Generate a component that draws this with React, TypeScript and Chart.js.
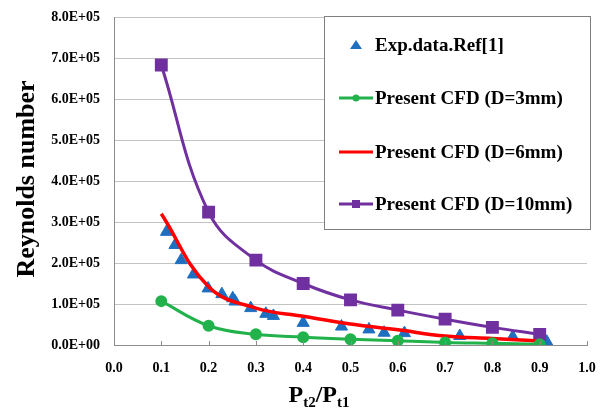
import React, { useEffect, useRef } from "react";
import { Chart, registerables } from "chart.js";
Chart.register(...registerables);

const expX = [0.111, 0.129, 0.142, 0.168, 0.199, 0.228, 0.251, 0.256, 0.289, 0.321, 0.337, 0.4, 0.481, 0.539, 0.571, 0.614, 0.731, 0.843, 0.915];
const expY = [2.76e5, 2.44e5, 2.07e5, 1.72e5, 1.38e5, 1.24e5, 1.14e5, 1.06e5, 0.9e5, 0.76e5, 0.71e5, 0.54e5, 0.45e5, 0.38e5, 0.3e5, 0.29e5, 0.22e5, 0.2e5, 0.08e5];
const cfdX = [0.1, 0.2, 0.3, 0.4, 0.5, 0.6, 0.7, 0.8, 0.9];
const re3 = [1.07e5, 0.47e5, 0.26e5, 0.19e5, 0.14e5, 0.105e5, 0.06e5, 0.04e5, 0.02e5];
const re6 = [3.2e5, 1.42e5, 0.9e5, 0.7e5, 0.51e5, 0.37e5, 0.22e5, 0.16e5, 0.1e5];
const re10 = [6.83e5, 3.24e5, 2.07e5, 1.5e5, 1.1e5, 0.85e5, 0.63e5, 0.43e5, 0.26e5];
const labels = ["Exp.data.Ref[1]", "Present CFD (D=3mm)", "Present CFD (D=6mm)", "Present CFD (D=10mm)"];
const yTitle = "Reynolds number";

const SERIF = '"Liberation Serif", "Times New Roman", serif';
const BLUE = "#1f6fc1";
const GREEN = "#22b24c";
const RED = "#ff0000";
const PURPLE = "#7030a0";

function sci(v: number): string {
  if (v === 0) return "0.0E+00";
  const e = Math.floor(Math.log10(Math.abs(v)) + 1e-9);
  const m = v / Math.pow(10, e);
  return m.toFixed(1) + "E+" + String(e).padStart(2, "0");
}

const decorPlugin = {
  id: "decor",
  afterDatasetsDraw(chart: any) {
    const ctx = chart.ctx;
    const { bottom } = chart.chartArea;
    const xs = chart.scales.x;
    ctx.save();
    // inward x tick marks
    ctx.strokeStyle = "#8c8c8c";
    ctx.lineWidth = 1;
    xs.ticks.forEach((t: any) => {
      const px = Math.round(xs.getPixelForValue(t.value)) + 0.5;
      ctx.beginPath();
      ctx.moveTo(px, bottom - 4);
      ctx.lineTo(px, bottom);
      ctx.stroke();
    });

    // legend box
    const bx = 324.5, by = 16.5, bw = 266, bh = 213;
    ctx.fillStyle = "#ffffff";
    ctx.fillRect(bx, by, bw, bh);
    ctx.strokeStyle = "#7f7f7f";
    ctx.strokeRect(bx, by, bw, bh);
    const rows = [45, 98, 152, 204];
    const ds = chart.data.datasets;
    ctx.font = `bold 19px ${SERIF}`;
    ctx.textBaseline = "middle";
    ctx.textAlign = "left";
    rows.forEach((ry: number, i: number) => {
      const d = ds[i];
      const col = d.borderColor;
      if (i === 0) {
        ctx.fillStyle = d.pointBackgroundColor;
        ctx.beginPath();
        ctx.moveTo(356, ry - 5);
        ctx.lineTo(362, ry + 4);
        ctx.lineTo(350, ry + 4);
        ctx.closePath();
        ctx.fill();
      } else {
        ctx.strokeStyle = col;
        ctx.lineWidth = 3;
        ctx.beginPath();
        ctx.moveTo(339, ry);
        ctx.lineTo(373, ry);
        ctx.stroke();
        ctx.fillStyle = col;
        if (i === 1) {
          ctx.beginPath();
          ctx.arc(356, ry, 3.5, 0, Math.PI * 2);
          ctx.fill();
        } else if (i === 3) {
          ctx.fillRect(352, ry - 4, 8, 8);
        }
      }
      ctx.fillStyle = "#000";
      ctx.fillText(d.label, 375, ry + 1);
    });

    // y title
    ctx.save();
    ctx.translate(27, 179);
    ctx.rotate(-Math.PI / 2);
    ctx.font = `bold 26px ${SERIF}`;
    ctx.textAlign = "center";
    ctx.textBaseline = "middle";
    ctx.fillStyle = "#000";
    ctx.fillText(yTitle, 0, 0);
    ctx.restore();

    // x title with subscripts
    const big = `bold 24px ${SERIF}`;
    const small = `bold 15px ${SERIF}`;
    const parts: [string, boolean][] = [["P", false], ["t2", true], ["/P", false], ["t1", true]];
    let total = 0;
    parts.forEach(([s, sub]) => {
      ctx.font = sub ? small : big;
      total += ctx.measureText(s).width;
    });
    let x = 319 - total / 2;
    ctx.textAlign = "left";
    ctx.textBaseline = "alphabetic";
    ctx.fillStyle = "#000";
    parts.forEach(([s, sub]) => {
      ctx.font = sub ? small : big;
      ctx.fillText(s, x, sub ? 407 : 402);
      x += ctx.measureText(s).width;
    });
    ctx.restore();
  },
};

export default function App() {
  const ref = useRef<HTMLCanvasElement>(null);
  useEffect(() => {
    if (!ref.current) return;
    const chart = new Chart(ref.current, {
      type: "line",
      data: {
        datasets: [
          {
            label: labels[0],
            data: expX.map((x, i) => ({ x, y: expY[i] })),
            showLine: false,
            borderColor: BLUE,
            backgroundColor: BLUE,
            pointBackgroundColor: BLUE,
            pointBorderColor: BLUE,
            pointStyle: "triangle",
            pointRadius: 7,
            order: 4,
          },
          {
            label: labels[1],
            data: cfdX.map((x, i) => ({ x, y: re3[i] })),
            borderColor: GREEN,
            backgroundColor: GREEN,
            pointBackgroundColor: GREEN,
            pointBorderColor: GREEN,
            borderWidth: 3,
            pointStyle: "circle",
            pointRadius: 4.5,
            tension: 0.4,
            order: 1,
          },
          {
            label: labels[2],
            data: cfdX.map((x, i) => ({ x, y: re6[i] })),
            borderColor: RED,
            backgroundColor: RED,
            borderWidth: 3.5,
            pointRadius: 0,
            tension: 0.4,
            order: 2,
          },
          {
            label: labels[3],
            data: cfdX.map((x, i) => ({ x, y: re10[i] })),
            borderColor: PURPLE,
            backgroundColor: PURPLE,
            pointBackgroundColor: PURPLE,
            pointBorderColor: PURPLE,
            borderWidth: 3,
            pointStyle: "rect",
            pointRadius: 7,
            tension: 0.4,
            order: 3,
          },
        ],
      },
      options: {
        animation: false,
        responsive: false,
        layout: { padding: { top: 17, right: 17, left: 0, bottom: 0 } },
        plugins: { legend: { display: false }, tooltip: { enabled: false } },
        scales: {
          x: {
            type: "linear",
            min: 0,
            max: 1,
            afterFit: (s: any) => { s.height = 67; s.paddingRight = 0; s.paddingLeft = 0; },
            grid: { display: false, drawTicks: false },
            border: { display: true, color: "#8c8c8c", width: 1 },
            ticks: {
              stepSize: 0.1,
              padding: 15,
              color: "#000",
              font: { family: SERIF, size: 14, weight: "bold" },
              callback: (v: any) => Number(v).toFixed(1),
            },
          },
          y: {
            type: "linear",
            min: 0,
            max: 8e5,
            afterFit: (s: any) => { s.width = 114; s.paddingTop = 0; s.paddingBottom = 0; },
            grid: { color: "#c3c3c3", drawTicks: false },
            border: { display: true, color: "#8c8c8c", width: 1 },
            ticks: {
              stepSize: 1e5,
              padding: 14,
              color: "#000",
              font: { family: SERIF, size: 14, weight: "bold" },
              callback: (v: any) => sci(Number(v)),
            },
          },
        },
      },
      plugins: [decorPlugin],
    } as any);
    return () => chart.destroy();
  }, []);
  return (
    <div style={{ position: "absolute", left: 0, top: 0, width: 604, height: 412, background: "#fff" }}>
      <canvas ref={ref} width={604} height={412} />
    </div>
  );
}
